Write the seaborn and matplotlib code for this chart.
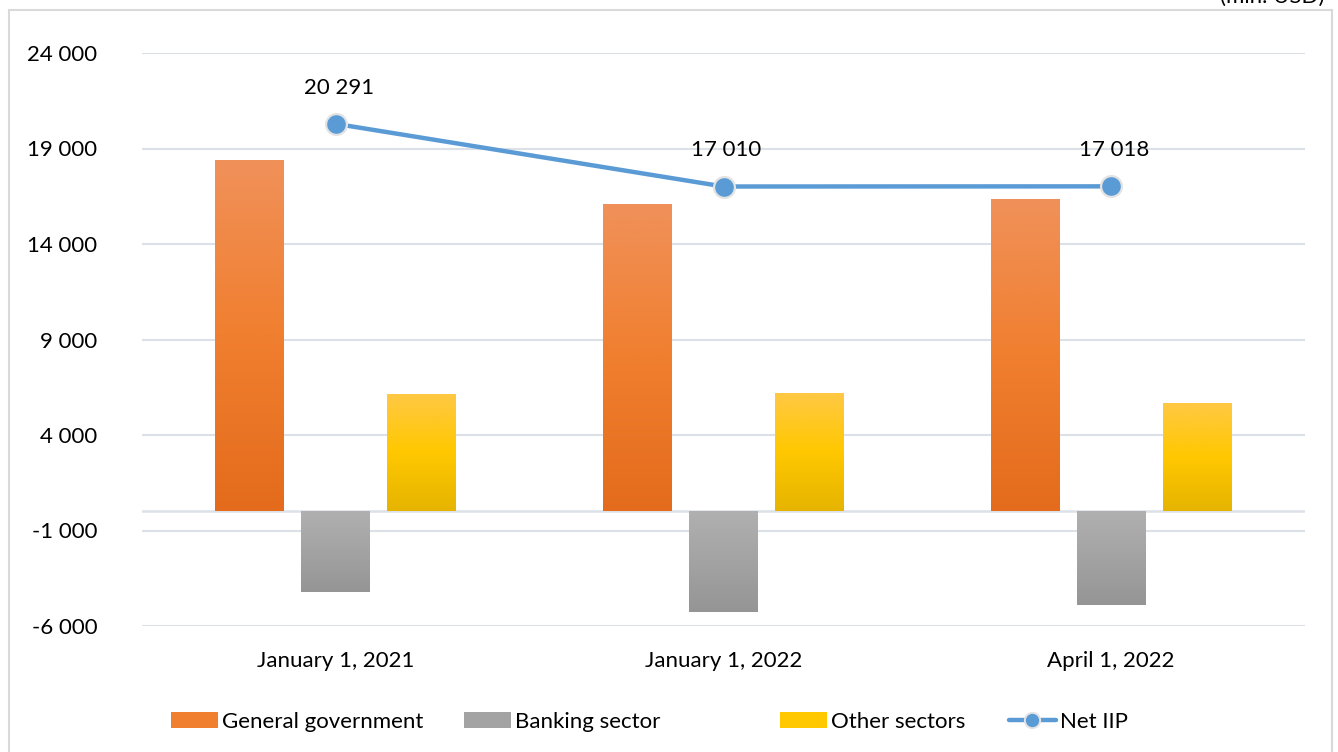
import numpy as np
import pandas as pd
import matplotlib
matplotlib.use("Agg")
import matplotlib.pyplot as plt
import seaborn as sns
from matplotlib.colors import LinearSegmentedColormap
from matplotlib.patches import Patch, Rectangle
from matplotlib.lines import Line2D

# ---- data ----
dates = ["January 1, 2021", "January 1, 2022", "April 1, 2022"]
sectors = ["General government", "Banking sector", "Other sectors"]
general_government = [18400, 16100, 16350]
banking_sector = [-4220, -5260, -4890]
other_sectors = [6150, 6200, 5680]
net_iip = [20291, 17010, 17018]
yticks = [-6000, -1000, 4000, 9000, 14000, 19000, 24000]

# ---- styling ----
sns.set_theme(style="white")
plt.rcParams["font.family"] = ["Lato", "DejaVu Sans"]
FS = 16
grid_c = "#DCE1E7"
gradients = {
    "General government": ["#F0915A", "#F07F2F", "#E46B1C"],
    "Banking sector": ["#B0B0B0", "#A3A3A3", "#959595"],
    "Other sectors": ["#FFC845", "#FFC800", "#E6B400"],
}
mid_colors = {k: v[1] for k, v in gradients.items()}
line_c = "#5B9BD5"

df = pd.DataFrame({
    "date": dates * 3,
    "sector": np.repeat(sectors, 3),
    "value": general_government + banking_sector + other_sectors,
})
df_net = pd.DataFrame({"date": dates, "value": net_iip})

fig = plt.figure(figsize=(13.38, 7.52), dpi=100)
ax = fig.add_axes([142 / 1338, 1 - 626 / 752, (1305 - 142) / 1338, (626 - 53) / 752])

sns.barplot(data=df, x="date", y="value", hue="sector", order=dates,
            hue_order=sectors, palette=mid_colors, width=0.666, gap=0.2,
            legend=False, ax=ax, zorder=3, linewidth=0)

# gradient fill for bars
for sec, cont in zip(sectors, ax.containers):
    cmap = LinearSegmentedColormap.from_list(sec, gradients[sec])
    grad = cmap(np.linspace(0, 1, 256))[:, :3].reshape(256, 1, 3)
    for p in cont.patches:
        x0, y0 = p.get_x(), p.get_y()
        w, h = p.get_width(), p.get_height()
        ylo, yhi = min(y0, y0 + h), max(y0, y0 + h)
        im = ax.imshow(grad, extent=(x0, x0 + w, ylo, yhi), origin="upper",
                       aspect="auto", zorder=3.1, interpolation="bilinear")
        im.set_clip_path(p)
        p.set_facecolor("none")

sns.pointplot(data=df_net, x="date", y="value", order=dates, color=line_c,
              markers="o", markersize=15, linewidth=3.2, errorbar=None, ax=ax,
              markeredgecolor="#E3E3E3", markeredgewidth=1.6, zorder=5)

for i, v in enumerate(net_iip):
    ax.annotate(f"{v:,}".replace(",", " "), (i, v), xytext=(2, 26),
                textcoords="offset points", ha="center", va="center",
                fontsize=FS, color="#000000", zorder=6)

ax.set_xlim(-0.5, 2.5)
ax.set_ylim(-6000, 24000)
ax.set_yticks(yticks)
ax.set_yticklabels([f"{t:,}".replace(",", " ") for t in yticks])
ax.set_xlabel("")
ax.set_ylabel("")
for s in ax.spines.values():
    s.set_visible(False)
ax.grid(axis="y", color=grid_c, linewidth=1.5, zorder=0)
ax.set_axisbelow(True)
ax.axhline(0, color=grid_c, linewidth=1.8, zorder=2)
ax.tick_params(axis="y", length=0, pad=32, labelsize=FS, labelcolor="#000000")
ax.tick_params(axis="x", length=0, pad=18, labelsize=FS, labelcolor="#000000")

# legend: one entry per legend, placed like the reference
handles = [Patch(facecolor=mid_colors[s], edgecolor="none") for s in sectors]
handles.append(Line2D([0], [0], color=line_c, lw=3.2, marker="o", markersize=11,
                      markerfacecolor=line_c, markeredgecolor="#E3E3E3",
                      markeredgewidth=1.4))
labels = sectors + ["Net IIP"]
left_px = [171, 464, 780, 1009]
for h, lab, lx in zip(handles, labels, left_px):
    fig.legend([h], [lab], loc="center left",
               bbox_to_anchor=(lx / 1338, 1 - 722 / 752), frameon=False,
               fontsize=FS, handlelength=2.1, handleheight=0.75,
               handletextpad=0.2, borderpad=0, borderaxespad=0,
               labelcolor="#000000")

# unit label (partially cut at top, as in the reference) and chart border
fig.text(1325 / 1338, 1 - 3 / 752, "(mln. USD)", ha="right", va="baseline",
         fontsize=FS, color="#000000")
fig.patches.append(Rectangle((9 / 1338, -0.05), (1332 - 9) / 1338, 1.05 - 10 / 752,
                             transform=fig.transFigure, fill=False,
                             edgecolor="#D9D9D9", linewidth=1.5))

fig.savefig("out.png", dpi=100)
